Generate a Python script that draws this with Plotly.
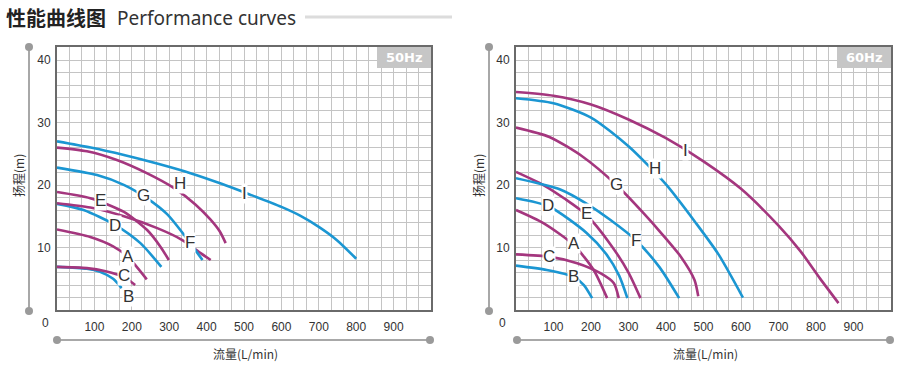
import plotly.graph_objects as go

W, H = 906, 370

FLOW_TICKS = [100, 200, 300, 400, 500, 600, 700, 800, 900]
HEAD_TICKS = [10, 20, 30, 40]

BLUE = "#1b96d2"
PURPLE = "#a4367e"

# ---------- 50 Hz curves (flow L/min, head m) ----------
q50_A = [0, 89, 150, 188, 240];            h50_A = [12.9, 11.7, 10.2, 8.6, 4.9]
q50_B = [0, 80, 115, 150, 173];            h50_B = [6.9, 6.6, 6.1, 5.0, 3.5]
q50_C = [0, 80, 130, 178, 209];            h50_C = [6.9, 6.7, 6.2, 5.3, 4.0]
q50_D = [0, 71, 156, 223, 279];            h50_D = [17.0, 16.0, 13.6, 10.7, 6.9]
q50_E = [0, 89, 179, 241, 277, 299];       h50_E = [18.9, 17.9, 15.7, 12.8, 10.1, 8.0]
q50_F = [0, 89, 179, 268, 335, 384, 411];  h50_F = [17.1, 16.4, 15.0, 13.1, 11.2, 9.1, 8.0]
q50_G = [0, 107, 180, 240, 295, 340, 389]; h50_G = [22.8, 21.6, 20.0, 17.9, 15.3, 12.0, 8.0]
q50_H = [0, 80, 160, 240, 313, 370, 410, 435, 451]
h50_H = [26.0, 25.4, 24.0, 21.9, 19.5, 16.9, 14.5, 12.6, 10.7]
q50_I = [0, 90, 179, 270, 357, 440, 515, 600, 650, 700, 750, 800]
h50_I = [27.0, 26.0, 24.8, 23.4, 21.9, 20.2, 18.5, 16.5, 15.1, 13.3, 11.1, 8.2]

# ---------- 60 Hz curves ----------
q60_A = [0, 73, 154, 207, 243];            h60_A = [16.0, 13.9, 10.4, 6.4, 1.9]
q60_B = [0, 82, 154, 181, 203];            h60_B = [7.1, 6.4, 5.3, 4.0, 1.9]
q60_C = [0, 91, 163, 225, 261, 274];       h60_C = [8.9, 8.5, 7.5, 5.9, 4.3, 1.9]
q60_D = [0, 87, 189, 240, 275, 297];       h60_D = [17.9, 16.6, 12.3, 9.0, 5.5, 1.9]
q60_E = [0, 73, 130, 188, 252, 300, 332];  h60_E = [22.1, 20.0, 17.8, 15.2, 10.5, 6.0, 1.9]
q60_F = [0, 118, 189, 252, 319, 382, 435]; h60_F = [21.1, 19.3, 17.0, 14.4, 11.2, 6.9, 1.9]
q60_G = [0, 89, 179, 268, 340, 386, 440, 476, 486]
h60_G = [29.2, 27.7, 24.5, 20.0, 15.5, 12.4, 8.5, 4.8, 2.2]
q60_H = [0, 100, 200, 300, 400, 480, 540, 605]
h60_H = [33.9, 33.1, 30.8, 26.2, 20.1, 13.9, 8.9, 2.0]
q60_I = [0, 100, 200, 300, 400, 500, 600, 700, 760, 810, 860]
h60_I = [34.9, 34.3, 32.9, 30.5, 27.5, 23.8, 19.4, 13.5, 9.3, 5.1, 1.1]

# curve label text positions (flow, head)
labels50 = ["A", "B", "C", "D", "E", "F", "G", "H", "I"]
lab50_q = [189, 191, 178, 156, 116, 356, 232, 330, 501]
lab50_h = [8.6, 2.2, 5.5, 13.6, 17.6, 10.8, 18.4, 20.2, 18.6]
labels60 = ["A", "B", "C", "D", "E", "F", "G", "H", "I"]
lab60_q = [155, 154, 89, 85, 188, 320, 268, 371, 452]
lab60_h = [10.6, 5.4, 8.5, 16.7, 15.4, 11.2, 20.1, 22.6, 25.5]

curves50 = [
    (q50_A, h50_A, PURPLE), (q50_B, h50_B, BLUE), (q50_C, h50_C, PURPLE),
    (q50_D, h50_D, BLUE), (q50_E, h50_E, PURPLE), (q50_F, h50_F, PURPLE),
    (q50_G, h50_G, BLUE), (q50_H, h50_H, PURPLE), (q50_I, h50_I, BLUE),
]
curves60 = [
    (q60_A, h60_A, PURPLE), (q60_B, h60_B, BLUE), (q60_C, h60_C, PURPLE),
    (q60_D, h60_D, BLUE), (q60_E, h60_E, PURPLE), (q60_F, h60_F, BLUE),
    (q60_G, h60_G, PURPLE), (q60_H, h60_H, BLUE), (q60_I, h60_I, PURPLE),
]

fig = go.Figure()
for q, h, c in curves50:
    fig.add_trace(go.Scatter(x=q, y=h, mode="lines", xaxis="x", yaxis="y",
                             line=dict(color=c, width=2.6, shape="spline", smoothing=0.7),
                             hoverinfo="skip", showlegend=False))
for q, h, c in curves60:
    fig.add_trace(go.Scatter(x=q, y=h, mode="lines", xaxis="x2", yaxis="y2",
                             line=dict(color=c, width=2.6, shape="spline", smoothing=0.7),
                             hoverinfo="skip", showlegend=False))


def px(xp):
    return xp / W


def py(yp):
    return 1 - yp / H


GRID = "#c4c4c4"
FRAME = "#6a6a6a"
TICKFONT = dict(family="Liberation Sans", size=12, color="#333333")


def xax(domain, anchor):
    return dict(domain=domain, anchor=anchor, range=[0, 1000], tickvals=FLOW_TICKS,
                showline=True, mirror=True, linecolor=FRAME, linewidth=2,
                showgrid=True, gridcolor=GRID, gridwidth=1, zeroline=False,
                ticks="outside", ticklen=5, tickcolor="rgba(0,0,0,0)",
                tickfont=TICKFONT, fixedrange=True,
                minor=dict(tick0=0, dtick=100 / 3, showgrid=True, gridcolor=GRID, gridwidth=1))


def yax(domain, anchor):
    return dict(domain=domain, anchor=anchor, range=[0, 42.1], tickvals=HEAD_TICKS,
                showline=True, mirror=True, linecolor=FRAME, linewidth=2,
                showgrid=True, gridcolor=GRID, gridwidth=1, zeroline=False,
                ticks="outside", ticklen=2, tickcolor="rgba(0,0,0,0)",
                tickfont=TICKFONT, fixedrange=True,
                minor=dict(tick0=0, dtick=2, showgrid=True, gridcolor=GRID, gridwidth=1))


ydom = [py(310), py(47)]
fig.update_layout(
    width=W, height=H, margin=dict(l=0, r=0, t=0, b=0),
    paper_bgcolor="white", plot_bgcolor="white",
    xaxis=xax([px(57), px(431)], "y"),
    yaxis=yax(ydom, "x"),
    xaxis2=xax([px(516), px(891)], "y2"),
    yaxis2=yax(ydom, "x2"),
)

ann = []
shapes = []
LABFONT = dict(family="Liberation Sans", size=17, color="#333333")
for t, q, h in zip(labels50, lab50_q, lab50_h):
    ann.append(dict(x=q, y=h, xref="x", yref="y", text=t, showarrow=False,
                    xanchor="center", yanchor="middle",
                    font=LABFONT, bgcolor="white", borderpad=0))
for t, q, h in zip(labels60, lab60_q, lab60_h):
    ann.append(dict(x=q, y=h, xref="x2", yref="y2", text=t, showarrow=False,
                    xanchor="center", yanchor="middle",
                    font=LABFONT, bgcolor="white", borderpad=0))


def pann(x, y, text, font, **kw):
    d = dict(x=px(x), y=py(y), xref="paper", yref="paper", text=text, showarrow=False,
             xanchor="center", yanchor="middle", font=font)
    d.update(kw)
    ann.append(d)


AXCOL = "#a8a8a8"
for (vx, hx0, hx1, zx, badge_x0, badge_x1, hz, ytx, xtx) in [
    (29, 57, 430, 45, 377, 431, "50Hz", 18, 245),
    (489, 517, 890, 503, 837, 891, "60Hz", 478, 705),
]:
    shapes.append(dict(type="line", xref="paper", yref="paper", x0=px(vx), x1=px(vx),
                       y0=py(47), y1=py(311), line=dict(color=AXCOL, width=2)))
    shapes.append(dict(type="line", xref="paper", yref="paper", x0=px(hx0), x1=px(hx1),
                       y0=py(340), y1=py(340), line=dict(color=AXCOL, width=2)))
    for cx, cy in [(vx, 47), (vx, 311), (hx0, 340), (hx1, 340)]:
        shapes.append(dict(type="circle", xref="paper", yref="paper",
                           x0=px(cx - 4), x1=px(cx + 4), y0=py(cy + 4), y1=py(cy - 4),
                           fillcolor="#9a9a9a", line=dict(width=0)))
    shapes.append(dict(type="rect", xref="paper", yref="paper", x0=px(badge_x0), x1=px(badge_x1),
                       y0=py(68), y1=py(47), fillcolor="#c6c6c6", line=dict(width=0)))
    pann((badge_x0 + badge_x1) / 2, 58, "<b>" + hz + "</b>",
         dict(family="DejaVu Sans", size=13, color="white"))
    pann(zx, 323, "0", TICKFONT)
    pann(ytx, 176, "扬程(m)", dict(family="Noto Sans CJK SC", size=12, color="#333333"),
         textangle=-90)
    pann(xtx, 353, "流量(L/min)", dict(family="Noto Sans CJK SC", size=12, color="#333333"))

# page title
pann(4, 18, "<b>性能曲线图</b>", dict(family="Noto Sans CJK SC", size=20, color="#222222"),
     xanchor="left")
pann(115, 18, "Performance curves", dict(family="Noto Sans", size=19, color="#333333"),
     xanchor="left")
shapes.append(dict(type="line", xref="paper", yref="paper", x0=px(305), x1=px(452),
                   y0=py(17), y1=py(17), line=dict(color="#dcdcdc", width=3)))

fig.update_layout(annotations=ann, shapes=shapes)
fig.write_html("out.html", config={"displayModeBar": False},
               post_script="document.body.style.margin='0';")
